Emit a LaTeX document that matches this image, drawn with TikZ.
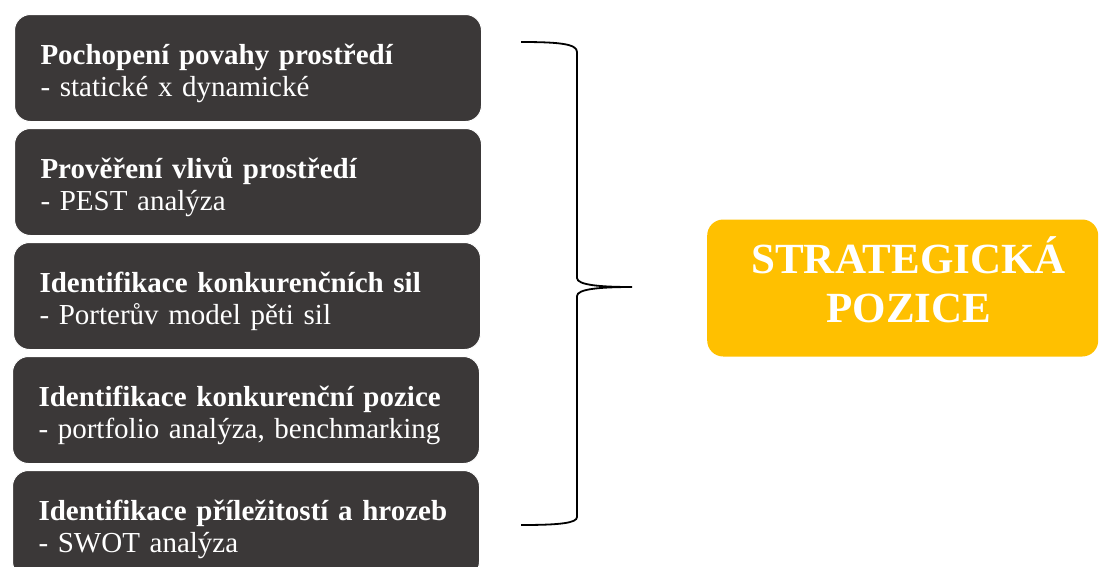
\documentclass[tikz,border=0pt]{standalone}
\usepackage{fontspec}
\setmainfont{Liberation Serif}
\usetikzlibrary{positioning}
\definecolor{boxgray}{HTML}{3B3838}
\definecolor{posyellow}{HTML}{FFC000}
\newcommand{\topstrut}{\rule{0pt}{32pt}}

\begin{document}
\begin{tikzpicture}[
    x=1pt, y=-1pt,
    node distance=6pt and 6pt,
    stepbox/.style={fill=boxgray,draw=white,line width=1pt,rounded corners=16pt,
      minimum width=467pt,minimum height=107pt,text width=415pt,
      inner xsep=26pt,align=left,text=white,
      font=\fontsize{29}{32}\selectfont},
    posbox/.style={fill=posyellow,rounded corners=16pt,
      minimum width=391pt,minimum height=137pt,align=center,text=white,
      font=\fontsize{43}{49}\selectfont\bfseries}
    ]
    \useasboundingbox (0,0) rectangle (1099,566);

    \node[stepbox, anchor=north west] (s1) at (14,14)
      {\topstrut\textbf{Pochopení povahy prostředí}\\- statické x dynamické};
    \node[stepbox, below=of s1] (s2)
      {\topstrut\textbf{Prověření vlivů prostředí}\\- PEST analýza};
    \node[stepbox, below=of s2, xshift=-1pt] (s3)
      {\topstrut\textbf{Identifikace konkurenčních sil}\\- Porterův model pěti sil};
    \node[stepbox, below=of s3, xshift=-1pt] (s4)
      {\topstrut\textbf{Identifikace konkurenční pozice}\\- portfolio analýza, benchmarking};
    \node[stepbox, below=of s4] (s5)
      {\topstrut\textbf{Identifikace příležitostí a hrozeb}\\- SWOT analýza};

    \node[posbox, anchor=west] (pos) at (707,288)
      {\hspace*{12pt}STRATEGICKÁ\\\hspace*{12pt}POZICE\rule[-16pt]{0pt}{1pt}};

    % brace
    \coordinate (btop) at (521,42);
    \coordinate (btip) at (632,287);
    \coordinate (bbot) at (521,525);
    \draw[line width=1.8pt] (btop) .. controls (560,42) and (577,44) .. (577,52)
      -- (577,278) .. controls (577,285) and (600,287) .. (btip)
      .. controls (600,287) and (577,289) .. (577,296)
      -- (577,517) .. controls (577,523) and (560,525) .. (bbot);

  \end{tikzpicture}
\end{document}
